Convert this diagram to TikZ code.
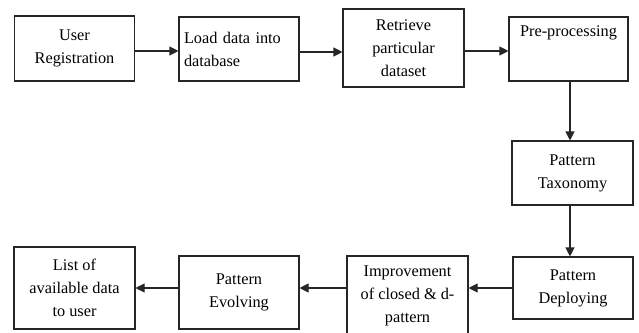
\documentclass[tikz,border=0pt]{standalone}
\usepackage{fontspec}
\setmainfont{Liberation Serif}
\usetikzlibrary{arrows.meta}
\begin{document}
\begin{tikzpicture}[x=1pt,y=-1pt,
  txt/.style={font=\fontsize{16.3}{23}\selectfont,align=center,inner sep=0pt},
  box/.style={draw=black!85,line width=1.1pt,inner sep=0pt,txt},
  arr/.style={draw=black!85,line width=1.1pt,-{Triangle[length=9pt,width=9pt]}}]
\useasboundingbox (0,0) rectangle (639,332);
% top row
\node[box,minimum width=120pt,minimum height=65pt] (b1) at (74.5,48.5) {User\\Registration};
\node[box,minimum width=120pt,minimum height=64pt,text width=110pt,align=left] (b2) at (239,49) {Load data into\\database};
\node[box,minimum width=121pt,minimum height=78pt] (b3) at (403.5,48) {Retrieve\\particular\\dataset};
\node[box,minimum width=119pt,minimum height=64pt] (b4) at (568.5,49) {};
\node[txt] (t4) at (568.5,33) {Pre-processing};
% right column
\node[box,minimum width=121pt,minimum height=64pt] (b5) at (572.5,173) {Pattern\\Taxonomy};
\node[box,minimum width=120pt,minimum height=62pt] (b6) at (573,288) {Pattern\\Deploying};
% bottom row
\node[box,minimum width=121pt,minimum height=80pt] (b7) at (407.5,296) {};
\node[txt] (t7) at (407.5,296) {Improvement\\of closed \& d-\\pattern};
\node[box,minimum width=120pt,minimum height=73pt] (b8) at (239,292.5) {Pattern\\Evolving};
\node[box,minimum width=121pt,minimum height=82pt] (b9) at (74.5,288) {List of\\available data\\to user};
% connectors
\draw[arr] ([yshift=-2.5pt]b1.east) -- ([yshift=-2.5pt]b1.east -| b2.west);
\draw[arr] ([yshift=-3pt]b2.east) -- ([yshift=-3pt]b2.east -| b3.west);
\draw[arr] ([yshift=-3pt]b3.east -| b3.east) -- ([yshift=-3pt]b3.east -| b4.west);
\draw[arr] ([xshift=1.5pt]b4.south) -- ([xshift=1.5pt]b4.south |- b5.north);
\draw[arr] ([xshift=-2.5pt]b5.south) -- ([xshift=-2.5pt]b5.south |- b6.north);
\draw[arr] (b6.west) -- (b6.west -| b7.east);
\draw[arr] (b7.west |- b6.west) -- (b6.west -| b8.east);
\draw[arr] (b8.west |- b6.west) -- (b6.west -| b9.east);
\end{tikzpicture}
\end{document}
